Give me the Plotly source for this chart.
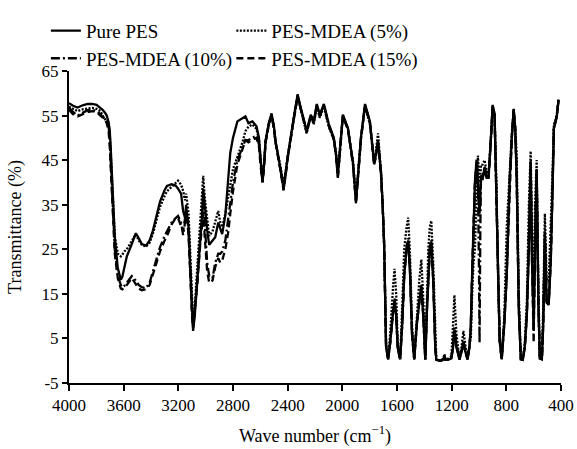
import plotly.graph_objects as go

# ---------------- data ----------------
wavenumber = [4000, 3970, 3937, 3900, 3864, 3830, 3798, 3770, 3754, 3735, 3724, 3710, 3702, 3695, 3687,
              3676, 3665, 3643, 3630, 3621, 3610, 3595, 3577, 3540, 3511, 3490, 3467, 3437, 3410, 3386,
              3360, 3334, 3300, 3283, 3250, 3220, 3202, 3180, 3165, 3151, 3143, 3125, 3114, 3099, 3092,
              3080, 3062, 3040, 3026, 3018, 3005, 2989, 2974, 2950, 2930, 2908, 2893, 2879, 2856, 2834,
              2820, 2800, 2768, 2731, 2709, 2687, 2658, 2628, 2610, 2599, 2584, 2570, 2562, 2540, 2518,
              2500, 2489, 2452, 2430, 2415, 2400, 2356, 2327, 2310, 2290, 2261, 2231, 2209, 2187, 2165,
              2135, 2099, 2062, 2045, 2033, 2015, 1996, 1959, 1922, 1900, 1885, 1864, 1834, 1798, 1768,
              1755, 1739, 1728, 1717, 1705, 1694, 1680, 1665, 1650, 1640, 1628, 1618, 1606, 1595, 1577,
              1562, 1547, 1530, 1518, 1505, 1490, 1474, 1455, 1437, 1422, 1408, 1393, 1380, 1371, 1360,
              1349, 1335, 1320, 1312, 1280, 1260, 1253, 1245, 1220, 1202, 1190, 1180, 1165, 1143, 1128,
              1114, 1100, 1084, 1070, 1060, 1050, 1040, 1030, 1018, 1008, 1000, 996, 990, 985, 974,
              959, 945, 930, 915, 900, 886, 871, 860, 849, 834, 815, 797, 775, 760, 746,
              735, 724, 709, 694, 680, 665, 650, 635, 622, 612, 600, 590, 578, 565, 555,
              540, 530, 518, 505, 490, 475, 462, 452, 440, 430, 418]

pure_pes = [57.8, 57.2, 56.8, 57.3, 57.6, 57.6, 57.4, 56.8, 56.3, 55.6, 55.0, 53.5, 51.6, 48.0, 42.9,
            35.0, 27.7, 20.8, 19.0, 18.2, 18.8, 21.0, 23.4, 26.2, 28.6, 27.5, 26.2, 25.8, 27.0, 29.2,
            32.5, 35.7, 38.3, 39.2, 39.6, 39.3, 38.6, 37.5, 33.6, 32.1, 34.2, 30.0, 21.9, 11.0, 6.7,
            10.0, 16.9, 27.0, 32.7, 38.6, 34.0, 29.2, 26.0, 26.8, 27.7, 31.0, 29.5, 28.4, 32.7, 41.4,
            46.6, 50.0, 53.7, 54.4, 54.8, 53.3, 53.7, 52.6, 50.0, 45.7, 40.1, 45.0, 49.4, 53.0, 55.5,
            52.5, 49.4, 42.9, 38.6, 42.0, 45.7, 54.4, 59.8, 57.5, 55.2, 51.6, 55.2, 53.7, 57.6, 55.2,
            57.6, 53.1, 50.0, 46.0, 41.4, 49.0, 55.2, 52.2, 44.4, 35.7, 42.0, 50.0, 57.6, 53.7, 44.4,
            46.0, 49.4, 45.0, 42.2, 35.0, 26.2, 3.2, 0.3, 4.0, 8.2, 11.0, 13.2, 10.0, 3.0, 0.3,
            8.0, 19.1, 25.0, 26.6, 20.0, 6.0, 0.3, 8.0, 13.0, 16.2, 10.0, 0.3, 12.0, 19.1, 25.0,
            26.2, 18.0, 3.0, 0.2, 0.0, 0.3, 1.0, 0.2, 0.3, 0.5, 3.0, 6.7, 3.0, 0.3, 2.0,
            3.9, 2.0, 0.3, 3.0, 7.6, 20.0, 33.0, 40.0, 45.1, 38.0, 34.0, 33.0, 38.0, 41.0, 40.7,
            43.5, 41.4, 41.4, 48.7, 57.4, 55.2, 33.6, 15.0, 4.5, 0.3, 8.0, 19.1, 40.7, 50.0, 56.5,
            52.0, 40.7, 11.9, 0.3, 0.2, 3.0, 10.0, 25.0, 44.0, 22.0, 8.0, 28.0, 42.0, 12.0, 0.5,
            0.3, 8.0, 28.0, 13.0, 12.5, 22.0, 38.0, 52.0, 53.5, 55.0, 58.6]

mdea_5 = [57.0, 56.5, 56.0, 56.4, 56.6, 56.7, 56.5, 56.0, 55.0, 54.0, 53.6, 53.0, 51.0, 47.0, 42.0,
          34.0, 28.0, 24.0, 23.5, 23.4, 23.8, 24.5, 25.0, 26.8, 28.4, 27.0, 26.0, 25.6, 26.5, 28.5,
          31.5, 34.5, 37.0, 38.0, 39.0, 40.0, 40.4, 39.5, 38.1, 36.0, 37.5, 33.0, 25.0, 13.0, 9.0,
          12.0, 20.0, 31.0, 37.0, 41.5, 36.0, 31.0, 28.0, 29.0, 31.0, 33.6, 31.0, 30.0, 33.0, 37.0,
          40.0, 43.0, 45.7, 49.0, 51.5, 52.5, 53.0, 52.0, 49.5, 45.5, 40.5, 45.0, 49.0, 52.5, 55.0,
          52.0, 49.0, 43.5, 39.5, 42.5, 46.0, 54.0, 59.3, 57.0, 54.8, 51.0, 54.8, 53.0, 57.0, 54.5,
          57.0, 52.5, 49.5, 46.5, 42.5, 49.0, 55.0, 52.0, 44.8, 36.5, 42.5, 50.0, 57.0, 53.0, 45.0,
          47.0, 51.0, 46.5, 42.5, 35.0, 26.0, 4.0, 0.5, 6.0, 12.0, 17.0, 20.6, 15.0, 4.0, 0.5,
          12.0, 25.0, 30.0, 32.1, 24.0, 8.0, 0.5, 10.0, 18.0, 22.7, 14.0, 0.5, 16.0, 25.0, 30.0,
          31.4, 22.0, 4.0, 0.3, 0.0, 0.5, 1.5, 0.3, 0.5, 1.0, 8.0, 14.7, 6.0, 0.5, 3.0,
          6.7, 3.5, 0.5, 3.5, 5.0, 15.0, 22.0, 25.0, 38.0, 46.0, 42.0, 40.0, 41.0, 44.0, 44.0,
          45.0, 42.5, 42.0, 49.0, 57.0, 55.5, 38.0, 18.0, 6.0, 0.5, 10.0, 30.0, 44.0, 51.0, 56.0,
          52.5, 46.0, 15.0, 0.5, 0.3, 4.0, 13.0, 35.0, 47.0, 28.0, 12.0, 35.0, 45.0, 16.0, 1.0,
          0.5, 12.0, 33.0, 18.0, 18.0, 30.0, 42.0, 53.0, 54.0, 55.5, 58.5]

mdea_10 = [56.8, 55.8, 55.0, 55.6, 56.2, 56.3, 56.0, 55.3, 54.8, 54.3, 53.8, 52.5, 50.0, 45.0, 40.0,
           32.0, 25.0, 19.0, 17.5, 17.0, 16.5, 16.8, 17.5, 19.0, 18.0, 17.0, 16.5, 16.3, 17.5, 20.0,
           23.0, 25.5, 28.0, 29.0, 31.0, 32.0, 32.5, 31.0, 28.2, 31.0, 35.0, 29.0, 20.0, 10.0, 7.5,
           11.0, 18.0, 28.0, 33.0, 36.0, 30.0, 22.0, 19.0, 18.5, 22.0, 24.0, 24.0, 24.5, 27.0, 32.0,
           36.0, 40.0, 45.0, 48.0, 49.5, 49.5, 50.0, 50.5, 48.5, 44.5, 40.0, 45.0, 49.0, 53.0, 55.2,
           52.3, 49.2, 42.7, 38.4, 41.8, 45.5, 54.2, 59.5, 57.3, 55.0, 51.4, 55.0, 53.5, 57.4, 55.0,
           57.4, 52.9, 49.8, 45.8, 41.2, 48.8, 55.0, 52.0, 44.2, 35.5, 41.8, 49.8, 57.4, 53.5, 44.2,
           45.8, 49.2, 44.8, 42.0, 34.8, 26.0, 3.2, 0.3, 4.0, 8.5, 11.5, 14.0, 10.5, 3.0, 0.3,
           8.0, 19.5, 25.5, 27.5, 20.5, 6.0, 0.3, 8.5, 13.5, 17.0, 10.5, 0.3, 12.5, 19.5, 25.5,
           27.0, 18.5, 3.0, 0.2, 0.0, 0.3, 1.0, 0.2, 0.3, 0.5, 3.5, 7.5, 3.5, 0.3, 2.0,
           4.5, 2.0, 0.3, 3.0, 7.6, 19.0, 31.0, 39.0, 44.0, 40.0, 20.0, 4.0, 30.0, 42.0, 41.0,
           43.0, 41.0, 41.0, 48.5, 57.2, 55.0, 34.0, 15.5, 4.5, 0.3, 8.5, 20.0, 41.0, 50.0, 56.3,
           52.0, 41.0, 12.0, 0.3, 0.2, 3.0, 10.5, 26.0, 45.0, 23.0, 6.5, 29.0, 43.0, 12.5, 0.5,
           0.3, 8.5, 29.0, 13.5, 13.0, 23.0, 39.0, 52.5, 53.8, 55.0, 58.4]

mdea_15 = [56.3, 55.3, 54.8, 55.3, 55.8, 56.0, 55.8, 55.0, 54.5, 54.0, 53.3, 51.5, 48.0, 44.0, 38.0,
           30.0, 24.0, 18.5, 17.0, 16.2, 16.0, 16.5, 17.0, 18.5, 17.0, 16.2, 15.8, 16.0, 17.0, 19.5,
           22.0, 24.5, 27.0, 28.0, 30.5, 32.0, 32.0, 30.0, 29.0, 32.0, 34.0, 28.0, 19.0, 9.5, 7.5,
           11.0, 17.0, 26.0, 31.0, 33.0, 27.0, 20.0, 17.5, 18.0, 21.0, 23.0, 22.0, 22.5, 25.0, 29.0,
           33.0, 38.0, 44.0, 47.5, 49.5, 49.0, 49.6, 50.0, 48.0, 44.0, 40.0, 44.8, 49.0, 52.8, 55.0,
           52.0, 49.0, 42.5, 38.2, 41.6, 45.3, 54.0, 59.3, 57.1, 54.8, 51.2, 54.8, 53.3, 57.2, 54.8,
           57.2, 52.7, 49.6, 45.6, 41.0, 48.6, 54.8, 51.8, 44.0, 35.3, 41.6, 49.6, 57.2, 53.3, 44.0,
           45.6, 49.0, 44.6, 41.8, 34.6, 25.8, 3.2, 0.3, 4.0, 8.3, 11.2, 13.6, 10.2, 3.0, 0.3,
           8.0, 19.3, 25.2, 27.0, 20.2, 6.0, 0.3, 8.2, 13.2, 16.6, 10.2, 0.3, 12.2, 19.3, 25.2,
           26.6, 18.2, 3.0, 0.2, 0.0, 0.3, 1.0, 0.2, 0.3, 0.5, 3.2, 7.0, 3.2, 0.3, 2.0,
           4.2, 2.0, 0.3, 3.0, 7.6, 19.5, 32.0, 39.5, 44.5, 39.0, 35.0, 33.5, 37.5, 41.0, 40.8,
           43.2, 41.2, 41.2, 48.6, 57.3, 55.1, 33.8, 15.2, 4.5, 0.3, 8.2, 19.5, 40.8, 50.0, 56.4,
           52.0, 40.8, 11.9, 0.3, 0.2, 3.0, 10.2, 25.5, 44.5, 22.5, 4.0, 28.5, 42.5, 12.2, 0.5,
           0.3, 8.2, 28.5, 13.2, 12.8, 22.5, 38.5, 52.2, 53.6, 55.0, 58.5]

series_names = ["Pure PES", "PES-MDEA (5%)", "PES-MDEA (10%)", "PES-MDEA (15%)"]
series_values = [pure_pes, mdea_5, mdea_10, mdea_15]
series_dash = ["solid", "2px,1.5px", "9px,3px,2px,3px", "7px,4px"]
series_legend = ["legend", "legend2", "legend", "legend2"]

x_ticks = [4000, 3600, 3200, 2800, 2400, 2000, 1600, 1200, 800, 400]
y_ticks = [65, 55, 45, 35, 25, 15, 5, -5]

# ---------------- figure ----------------
FONT = "Liberation Serif, Times New Roman, serif"
fig = go.Figure()
for name, vals, dash, lg in zip(series_names, series_values, series_dash, series_legend):
    fig.add_trace(go.Scatter(x=wavenumber, y=vals, mode="lines", name=name, legend=lg,
                             line=dict(color="black", width=2.3, dash=dash)))

legend_style = dict(orientation="v", xanchor="left", yanchor="top", y=1.19,
                    itemwidth=30, tracegroupgap=0, borderwidth=0,
                    font=dict(family=FONT, size=19, color="black"),
                    bgcolor="rgba(0,0,0,0)")

fig.update_layout(
    width=577, height=449,
    margin=dict(l=69, r=16, t=58, b=66),
    paper_bgcolor="white", plot_bgcolor="white",
    font=dict(family=FONT, size=17, color="black"),
    showlegend=True,
    legend=dict(x=-0.047, **legend_style),
    legend2=dict(x=0.33, **legend_style),
    hovermode=False,
)
fig.update_xaxes(range=[4000, 400], tickvals=x_ticks, ticktext=[str(v) for v in x_ticks],
                 showgrid=False, zeroline=False, showline=True, linecolor="black", linewidth=2,
                 ticks="outside", ticklen=6, tickwidth=2, tickcolor="black", automargin=False,
                 tickfont=dict(family=FONT, size=17),
                 title=dict(text="Wave number (cm<sup>−1</sup>)", font=dict(family=FONT, size=18)))
fig.update_yaxes(range=[-5, 65], tickvals=y_ticks, ticktext=[str(v) for v in y_ticks],
                 showgrid=False, zeroline=False, showline=True, linecolor="black", linewidth=2,
                 ticks="outside", ticklen=5, tickwidth=2, tickcolor="black", automargin=False,
                 tickfont=dict(family=FONT, size=17),
                 title=dict(text="Transmittance (%)", font=dict(family=FONT, size=18)))

fig.write_html("out.html")
